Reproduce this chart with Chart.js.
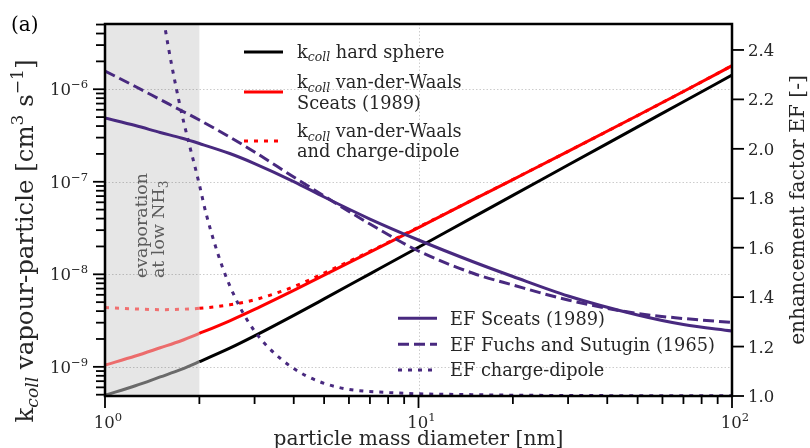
<!DOCTYPE html>
<html><head><meta charset="utf-8">
<script src="https://cdn.jsdelivr.net/npm/chart.js@4"></script>
<style>html,body{margin:0;padding:0;background:#fff}#wrap{width:810px;height:448px;position:relative}</style>
</head><body><div id="wrap"><canvas id="c" width="810" height="448"></canvas></div>
<script>
// ---- data ----
const diameter = [1,1.25,1.5,1.75,2,2.5,3,4,5,7,10,15,20,30,50,70,100];
const kHardSphere = [4.94e-10,6.25e-10,7.78e-10,9.37e-10,1.135e-9,1.589e-9,2.158e-9,3.597e-9,5.42e-9,1.012e-8,1.963e-8,4.18e-8,7.13e-8,1.517e-7,3.92e-7,7.33e-7,1.422e-6];
const kVdW = [1.045e-9,1.309e-9,1.607e-9,1.915e-9,2.296e-9,3.148e-9,4.18e-9,6.71e-9,9.78e-9,1.735e-8,3.20e-8,6.44e-8,1.057e-7,2.13e-7,5.20e-7,9.45e-7,1.797e-6];
const kVdWChargeDipole = [4.365e-9,4.22e-9,4.15e-9,4.19e-9,4.29e-9,4.68e-9,5.30e-9,7.35e-9,1.03e-8,1.77e-8,3.235e-8,6.47e-8,1.059e-7,2.13e-7,5.20e-7,9.45e-7,1.797e-6];
const efSceats = [2.1246,2.0943,2.0660,2.0437,2.0214,1.9810,1.9405,1.8677,1.8050,1.7160,1.6311,1.5421,1.4834,1.4045,1.3277,1.2892,1.2629];
const efFuchs = [2.3147,2.2520,2.1994,2.1549,2.1165,2.0477,1.9871,1.8859,1.8091,1.6958,1.5866,1.4956,1.4490,1.3883,1.3337,1.3135,1.2973];
const cdDiameter = [1.4,1.551,1.724,2,2.098,2.37,2.68,3.03,3.6,4.38,5.6,8.08,15.7,30,100];
const efChargeDipole = [2.88,2.496,2.19,1.855,1.741,1.521,1.365,1.255,1.155,1.082,1.034,1.014,1.005,1.002,1.001];
const xMajorTicks = [1,10,100];
const xMajorExp = ['0','1','2'];
const yMajorExp = [-9,-8,-7,-6];
const efTicks = [1.0,1.2,1.4,1.6,1.8,2.0,2.2,2.4];
const evapRange = [1,2];

// ---- styling ----
const SERIF = '"DejaVu Serif", serif';
const TXT = '#262626';
const PURPLE = '#48297f';
function fnt(size, it){ return (it?'italic ':'') + size.toFixed(2) + 'px ' + SERIF; }
function runsWidth(ctx, runs, size){ let w=0; for(const r of runs){ ctx.font = fnt((r.sub||r.sup)?size*0.7:size, r.it); w += ctx.measureText(r.t).width; } return w; }
function drawRuns(ctx, runs, x, y, size, align, color){
  const w = runsWidth(ctx, runs, size);
  let cx = align==='center' ? x-w/2 : align==='right' ? x-w : x;
  ctx.textAlign='left'; ctx.textBaseline='alphabetic'; ctx.fillStyle = color||TXT;
  for(const r of runs){ const s=(r.sub||r.sup)?size*0.7:size; ctx.font=fnt(s,r.it);
    const dy = r.sub ? size*0.22 : r.sup ? -size*0.42 : 0;
    ctx.fillText(r.t, cx, y+dy); cx += ctx.measureText(r.t).width; }
}
function fit(ctx, runs, target){ return 20*target/runsWidth(ctx, runs, 20); }

function minorTicks(lo, hi){ const out=[]; for(let e=Math.floor(Math.log10(lo)); e<=Math.ceil(Math.log10(hi)); e++){ for(let m=1;m<=9;m++){ const v=m*Math.pow(10,e); if(v>=lo*0.999 && v<=hi*1.001) out.push({v, major:m===1}); } } return out; }

const decor = {
  id:'decor',
  beforeDatasetsDraw(chart){
    const {ctx, chartArea:a, scales:{x,y}} = chart;
    ctx.save();
    ctx.fillStyle='#e6e6e6';
    const x0=x.getPixelForValue(evapRange[0]), x1=x.getPixelForValue(evapRange[1]);
    ctx.fillRect(x0, a.top, x1-x0, a.bottom-a.top);
    // dotted grid: decades of the left axis and x = 10
    ctx.strokeStyle='rgba(0,0,0,0.2)'; ctx.lineWidth=1; ctx.setLineDash([1.5,2]);
    yMajorExp.forEach(e=>{ const py=Math.round(y.getPixelForValue(Math.pow(10,e)))+0.5;
      ctx.beginPath(); ctx.moveTo(a.left,py); ctx.lineTo(a.right,py); ctx.stroke(); });
    const gx=Math.round(x.getPixelForValue(xMajorTicks[1]))+0.5;
    ctx.beginPath(); ctx.moveTo(gx,a.top); ctx.lineTo(gx,a.bottom); ctx.stroke();
    ctx.restore();
  },
  afterDraw(chart){
    const {ctx, chartArea:a, scales:{x,y,y2}} = chart;
    ctx.save();
    // frame
    ctx.strokeStyle='#000'; ctx.lineWidth=2.5;
    ctx.beginPath(); ctx.moveTo(a.left,a.bottom+1.2); ctx.lineTo(a.left,a.top); ctx.lineTo(a.right,a.top); ctx.lineTo(a.right,a.bottom); ctx.lineTo(a.left-1.2,a.bottom); ctx.stroke();
    // tick marks
    ctx.lineWidth=1.8;
    for(const t of minorTicks(x.min, x.max)){ const px=x.getPixelForValue(t.v); const L=t.major?12:8;
      ctx.beginPath(); ctx.moveTo(px,a.bottom); ctx.lineTo(px,a.bottom+L); ctx.stroke(); }
    for(const t of minorTicks(y.min, y.max)){ const py=y.getPixelForValue(t.v); const L=t.major?12:9;
      ctx.beginPath(); ctx.moveTo(a.left,py); ctx.lineTo(a.left-L,py); ctx.stroke(); }
    for(const v of efTicks){ const py=y2.getPixelForValue(v);
      ctx.beginPath(); ctx.moveTo(a.right,py); ctx.lineTo(a.right+12,py); ctx.stroke(); }
    // tick labels
    const T=16.5;
    xMajorTicks.forEach((v,i)=>{ const px=x.getPixelForValue(v);
      drawRuns(ctx,[{t:'10'},{t:xMajorExp[i],sup:true}],px+3,428,T,'center'); });
    yMajorExp.forEach(e=>{ const py=y.getPixelForValue(Math.pow(10,e));
      drawRuns(ctx,[{t:'10'},{t:'\u2212'+(-e),sup:true}],88,py+6,T,'right'); });
    efTicks.forEach(v=>{ const py=y2.getPixelForValue(v);
      drawRuns(ctx,[{t:v.toFixed(1)}],748,py+6,T,'left'); });
    // axis titles
    const xt=[{t:'particle mass diameter [nm]'}];
    drawRuns(ctx, xt, (a.left+a.right)/2, 444.5, fit(ctx,xt,290), 'center');
    const yl=[{t:'k'},{t:'coll',sub:true,it:true},{t:' vapour-particle [cm'},{t:'3',sup:true},{t:' s'},{t:'\u22121',sup:true},{t:']'}];
    ctx.save(); ctx.translate(33,241); ctx.rotate(-Math.PI/2); drawRuns(ctx, yl, 0, 0, fit(ctx,yl,363), 'center'); ctx.restore();
    const yr=[{t:'enhancement factor EF [-]'}];
    ctx.save(); ctx.translate(804,210); ctx.rotate(-Math.PI/2); drawRuns(ctx, yr, 0, 0, fit(ctx,yr,270), 'center'); ctx.restore();
    // panel label
    drawRuns(ctx,[{t:'(a)'}],11,31,20,'left','#000');
    // evaporation note
    const ev1=[{t:'evaporation'}], ev2=[{t:'at low NH'},{t:'3',sub:true}];
    const es=fit(ctx,ev1,105);
    ctx.save(); ctx.translate(147,278); ctx.rotate(-Math.PI/2);
    drawRuns(ctx, ev1, 0, 0, es, 'left', '#5c5c5c');
    drawRuns(ctx, ev2, 0, 17, es, 'left', '#5c5c5c');
    ctx.restore();
    // legends
    const LS = fit(ctx,[{t:'EF Fuchs and Sutugin (1965)'}],265);
    function sample(x0,yy,color,dash){ ctx.save(); ctx.strokeStyle=color; ctx.lineWidth=3; ctx.lineCap='butt'; ctx.setLineDash(dash); ctx.beginPath(); ctx.moveTo(x0,yy); ctx.lineTo(x0+39,yy); ctx.stroke(); ctx.restore(); }
    const k=[{t:'k'},{t:'coll',sub:true,it:true}];
    sample(244,52,'#000',[]);
    drawRuns(ctx,[...k,{t:' hard sphere'}],297,57.5,LS,'left');
    sample(244,92,'#ff0000',[]);
    drawRuns(ctx,[...k,{t:' van-der-Waals'}],297,88.3,LS,'left');
    drawRuns(ctx,[{t:'Sceats (1989)'}],297,108.8,LS,'left');
    sample(244,141,'#ff0000',[4,6]);
    drawRuns(ctx,[...k,{t:' van-der-Waals'}],297,137.3,LS,'left');
    drawRuns(ctx,[{t:'and charge-dipole'}],297,157,LS,'left');
    sample(398,318.3,PURPLE,[]);
    drawRuns(ctx,[{t:'EF Sceats (1989)'}],450,325,LS,'left');
    sample(398,344.3,PURPLE,[11,5]);
    drawRuns(ctx,[{t:'EF Fuchs and Sutugin (1965)'}],450,350.7,LS,'left');
    sample(398,370,PURPLE,[4,6]);
    drawRuns(ctx,[{t:'EF charge-dipole'}],450,375.7,LS,'left');
    ctx.restore();
  }
};

function series(xs, ys, axis, color, light, dash){
  return { data: xs.map((d,i)=>({x:d,y:ys[i]})), yAxisID:axis, borderColor:color, borderWidth:3,
    borderDash:dash, borderCapStyle:'butt', pointRadius:0, fill:false, cubicInterpolationMode:'monotone',
    segment: light ? { borderColor: c => c.p1.parsed.x <= evapRange[1]*1.0001 ? light : color } : undefined };
}

new Chart(document.getElementById('c'), {
  type:'line',
  data:{ datasets:[
    series(cdDiameter, efChargeDipole, 'y2', PURPLE, null, [4,6]),
    series(diameter, efFuchs, 'y2', PURPLE, null, [11,5]),
    series(diameter, efSceats, 'y2', PURPLE, null, []),
    series(diameter, kVdWChargeDipole, 'y', '#ff0000', '#f07070', [4,6]),
    series(diameter, kVdW, 'y', '#ff0000', '#ec6c6c', []),
    series(diameter, kHardSphere, 'y', '#000000', '#6a6a6a', [])
  ]},
  options:{
    responsive:false, animation:false, devicePixelRatio:1,
    layout:{padding:{top:24,left:0,right:0,bottom:0}},
    plugins:{legend:{display:false}, tooltip:{enabled:false}},
    scales:{
      x:{ type:'logarithmic', position:'bottom', min:1, max:100, bounds:'data',
        afterFit:s=>{s.height=52;},
        ticks:{display:false}, grid:{display:false, drawTicks:false}, border:{display:false} },
      y:{ type:'logarithmic', position:'left', min:4.84e-10, max:5.07e-6, bounds:'data',
        afterFit:s=>{s.width=105;},
        ticks:{display:false}, grid:{display:false, drawTicks:false}, border:{display:false} },
      y2:{ type:'linear', position:'right', min:1.0, max:2.505, bounds:'data',
        afterFit:s=>{s.width=78;},
        ticks:{display:false}, grid:{display:false, drawTicks:false}, border:{display:false} }
    }
  },
  plugins:[decor]
});
</script></body></html>
